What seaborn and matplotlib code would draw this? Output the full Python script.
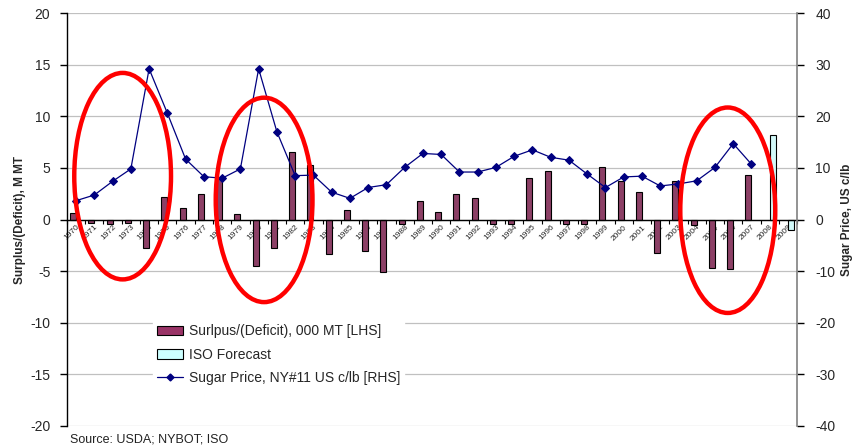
import numpy as np
import pandas as pd
import matplotlib
matplotlib.use("Agg")
import matplotlib.pyplot as plt
from matplotlib.patches import Ellipse, Patch
from matplotlib.lines import Line2D
from matplotlib.ticker import FixedLocator, MultipleLocator
import seaborn as sns

# ---- data -------------------------------------------------------------
years = [str(y) for y in range(1970, 2010)]

# world sugar surplus/(deficit), million metric tonnes
surplus_years = [str(y) for y in range(1970, 2008)]
surplus = [0.6, -0.3, -0.4, -0.3, -2.8, 2.2, 1.1, 2.45, 4.0, 0.5,
           -4.5, -2.8, 6.5, 5.25, -3.3, 0.9, -3.05, -5.1, -0.45, 1.75,
           0.75, 2.45, 2.05, -0.45, -0.45, 4.0, 4.7, -0.45, -0.45, 5.05,
           3.75, 2.7, -3.25, 3.7, -0.55, -4.65, -4.75, 4.35]

# ISO forecast
forecast_years = ["2008", "2009"]
forecast = [8.2, -1.0]

# NY#11 raw sugar price, US c/lb
price_years = [str(y) for y in range(1970, 2008)]
price = [3.65, 4.75, 7.4, 9.8, 29.2, 20.6, 11.7, 8.3, 8.0, 9.8,
         29.2, 17.0, 8.5, 8.6, 5.3, 4.1, 6.2, 6.75, 10.1, 12.8,
         12.6, 9.2, 9.2, 10.1, 12.25, 13.5, 12.05, 11.5, 8.8, 6.2,
         8.25, 8.4, 6.5, 6.9, 7.5, 10.1, 14.7, 10.7]

surplus_label = "Surlpus/(Deficit), 000 MT [LHS]"
forecast_label = "ISO Forecast"
price_label = "Sugar Price, NY#11 US c/lb [RHS]"

# ---- tidy frames --------------------------------------------------------
bars = pd.concat([
    pd.DataFrame({"year": surplus_years, "value": surplus, "series": surplus_label}),
    pd.DataFrame({"year": forecast_years, "value": forecast, "series": forecast_label}),
], ignore_index=True)

prices = pd.DataFrame({"pos": [years.index(y) for y in price_years], "price": price})

# ---- styling --------------------------------------------------------------
sns.set_theme(style="white")
plt.rcParams["font.family"] = ["Liberation Sans", "DejaVu Sans"]
plt.rcParams["axes.unicode_minus"] = False

maroon = "#993366"
pale_cyan = "#CCFFFF"
navy = "#000080"
grid_grey = "#C0C0C0"

fig = plt.figure(figsize=(8.53, 4.45), dpi=100)
ax = fig.add_axes([0.0785, 0.0427, 0.856, 0.928])

sns.barplot(data=bars, x="year", y="value", hue="series", order=years,
            hue_order=[surplus_label, forecast_label],
            palette={surplus_label: maroon, forecast_label: pale_cyan},
            dodge=True, width=0.66, edgecolor="black", linewidth=0.8,
            legend=False, ax=ax, zorder=2)

ax.set_xlim(-0.5, len(years) - 0.5)
ax.set_ylim(-20, 20)
ax.yaxis.set_major_locator(MultipleLocator(5))
for v in np.arange(-20, 21, 5):
    ax.axhline(v, color=grid_grey, lw=0.9, zorder=0)

# category axis crossing at zero
for s in ["top", "right"]:
    ax.spines[s].set_visible(False)
ax.spines["bottom"].set_position(("data", 0))
ax.spines["bottom"].set_color("black")
ax.spines["bottom"].set_linewidth(1.0)
ax.spines["bottom"].set_zorder(3)
ax.spines["left"].set_color("black")
ax.spines["left"].set_linewidth(1.0)

ax.set_xticks(range(len(years)))
ax.set_xticklabels(years, rotation=45, ha="right", va="top",
                   rotation_mode="anchor", fontsize=6)
ax.tick_params(axis="x", which="major", length=0, pad=3)
ax.xaxis.set_minor_locator(FixedLocator(np.arange(-0.5, len(years), 1.0)))
ax.tick_params(axis="x", which="minor", length=3, width=0.8,
               direction="out", color="black", bottom=True)
ax.tick_params(axis="y", which="major", left=True, length=5, width=1,
               color="black", direction="out", labelsize=10, pad=7)
ax.set_xlabel("")
ax.set_ylabel("Surplus/(Deficit), M MT", fontsize=8.5, fontweight="bold",
              labelpad=3)

# ---- price line on the right axis ------------------------------------
ax2 = ax.twinx()
sns.lineplot(data=prices, x="pos", y="price", color=navy, lw=0.9,
             marker="D", markersize=4.5, markeredgecolor=navy,
             ax=ax2, zorder=3)
ax2.set_ylim(-40, 40)
ax2.yaxis.set_major_locator(MultipleLocator(10))
for s in ["top", "bottom", "left"]:
    ax2.spines[s].set_visible(False)
ax2.spines["right"].set_color("#808080")
ax2.spines["right"].set_linewidth(1.2)
ax2.tick_params(axis="y", right=True, length=5, width=1, color="black",
                direction="out", labelsize=10, pad=8)
ax2.set_xlabel("")
ax2.set_ylabel("Sugar Price, US c/lb", fontsize=8.5, fontweight="bold",
               labelpad=4)

# ---- highlighted periods --------------------------------------------------
highlights = [
    # (center category, center value, width in categories, height in M MT)
    (2.55, 4.2, 5.3, 20.0),
    (10.3, 1.9, 5.3, 19.8),
    (35.7, 0.9, 5.2, 19.9),
]
for cx, cy, w, h in highlights:
    ax2.add_patch(Ellipse((cx, cy), w, h, transform=ax.transData,
                          fill=False, edgecolor="#FF0000", lw=3.2,
                          zorder=5, clip_on=False))

# ---- legend --------------------------------------------------------------
handles = [
    Patch(facecolor=maroon, edgecolor="black", lw=0.8, label=surplus_label),
    Patch(facecolor=pale_cyan, edgecolor="black", lw=0.8, label=forecast_label),
    Line2D([], [], color=navy, lw=0.9, marker="D", markersize=3.5,
           label=price_label),
]
leg = ax2.legend(handles=handles, loc="lower left",
                 bbox_to_anchor=(0.108, 0.072), frameon=True, fancybox=False,
                 framealpha=1.0, facecolor="white", edgecolor="white",
                 fontsize=10, handlelength=1.9, handleheight=0.7,
                 labelspacing=0.68, borderpad=0.3, handletextpad=0.4)
leg.set_zorder(6)

fig.text(0.082, 0.026, "Source: USDA; NYBOT; ISO", fontsize=9,
         ha="left", va="top", color="#222222")

fig.savefig("out.png", dpi=100)
